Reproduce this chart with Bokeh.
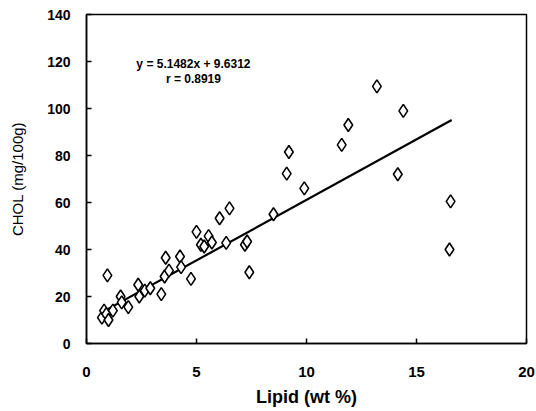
from bokeh.plotting import figure
from bokeh.models import Range1d, FixedTicker, Label
from bokeh.embed import file_html
from bokeh.resources import INLINE

lipid = [0.7, 0.8, 0.9, 0.95, 1.0, 1.2, 1.55, 1.6, 1.9, 2.35, 2.4, 2.65, 2.9,
         3.4, 3.55, 3.6, 3.75, 4.25, 4.3, 4.75, 5.0, 5.2, 5.35, 5.55, 5.7,
         6.05, 6.35, 6.5, 7.2, 7.3, 7.4, 8.5, 9.1, 9.2, 9.9, 11.6, 11.9,
         13.2, 14.15, 14.4, 16.55, 16.5]
chol = [11, 14, 12.5, 29, 10, 14, 20, 17.5, 15.5, 25, 20, 22.5, 23.5,
        21, 28.5, 36.5, 31, 37, 32.5, 27.5, 47.5, 42, 41.3, 45.7, 43,
        53.3, 42.8, 57.5, 42, 43.4, 30.3, 55, 72.3, 81.5, 66, 84.5, 93,
        109.4, 72, 99, 60.5, 40]

slope = 5.1482
intercept = 9.6312
r_value = 0.8919
fit_x = [0.7, 16.6]
fit_y = [slope * x + intercept for x in fit_x]

x_ticks = [0, 5, 10, 15, 20]
y_ticks = [0, 20, 40, 60, 80, 100, 120, 140]

p = figure(width=536, height=411, output_backend="svg", toolbar_location=None,
           x_range=Range1d(0, 20), y_range=Range1d(0, 140),
           min_border_left=86, min_border_right=10, min_border_top=14,
           min_border_bottom=68)
p.grid.visible = False
p.outline_line_color = "black"
p.outline_line_width = 1.5
p.background_fill_color = "white"
p.border_fill_color = "white"

for ax, ticks in ((p.xaxis[0], x_ticks), (p.yaxis[0], y_ticks)):
    ax.ticker = FixedTicker(ticks=ticks)
    ax.major_tick_in = 5
    ax.major_tick_out = 0
    ax.minor_tick_line_color = None
    ax.axis_line_color = "black"
    ax.axis_line_width = 1.5
    ax.major_tick_line_width = 1.5
    ax.major_label_text_font = "Liberation Sans"
    ax.major_label_text_font_style = "bold"
    ax.major_label_text_color = "black"
    ax.axis_label_text_font = "Liberation Sans"
    ax.axis_label_text_color = "black"

p.xaxis.axis_label = "Lipid (wt %)"
p.xaxis.axis_label_text_font_size = "18px"
p.xaxis.axis_label_text_font_style = "bold"
p.xaxis.major_label_text_font_size = "15px"
p.xaxis.major_label_standoff = 23
p.xaxis.axis_label_standoff = 7

p.yaxis.axis_label = "CHOL (mg/100g)"
p.yaxis.axis_label_text_font_size = "15px"
p.yaxis.axis_label_text_font_style = "normal"
p.yaxis.major_label_text_font_size = "14px"
p.yaxis.major_label_standoff = 16
p.yaxis.axis_label_standoff = 18

p.line(fit_x, fit_y, line_color="black", line_width=2.2)
p.scatter(lipid, chol, marker="diamond", size=13, fill_color="white",
          line_color="black", line_width=1.6)

p.add_layout(Label(x=4.86, y=119, text=f"y = {slope}x + {intercept}",
                   text_align="center", text_baseline="middle",
                   text_font="Liberation Sans", text_font_style="bold",
                   text_font_size="12px", text_color="black"))
p.add_layout(Label(x=4.86, y=112.5, text=f"r = {r_value}",
                   text_align="center", text_baseline="middle",
                   text_font="Liberation Sans", text_font_style="bold",
                   text_font_size="12px", text_color="black"))

open("out.html", "w").write(file_html(p, INLINE))
